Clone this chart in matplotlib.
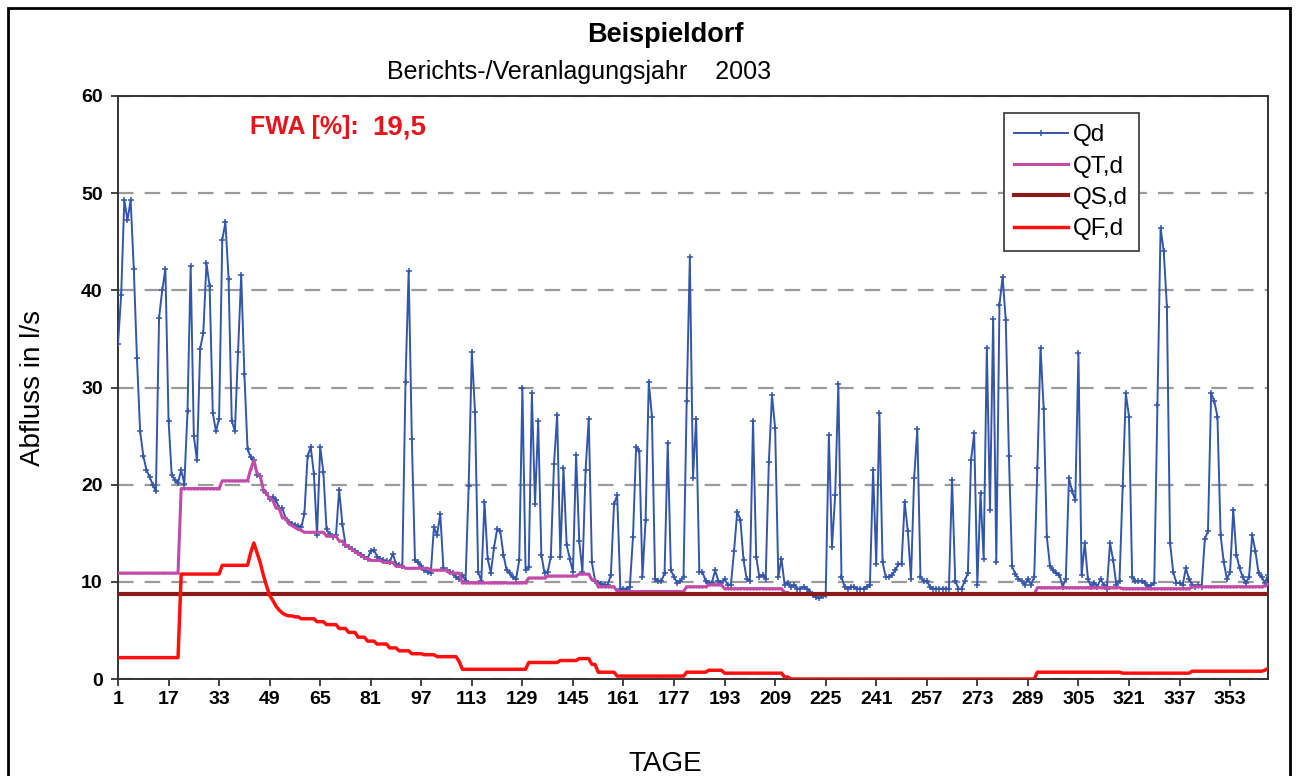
import numpy as np
import matplotlib
matplotlib.use("Agg")
import matplotlib.pyplot as plt
from matplotlib.patches import Rectangle

plt.rcParams["font.family"] = ["Liberation Sans", "DejaVu Sans"]

# daily discharge Qd (l/s), days 1..365
qd = [
	34.5, 39.5, 49.3, 47.2, 49.3, 42.2, 33.0, 25.5, 23.0, 21.5,
	20.8, 20.0, 19.3, 37.2, 40.0, 42.2, 26.6, 21.0, 20.5, 20.2,
	21.5, 20.1, 27.6, 42.5, 25.0, 22.5, 34.0, 35.6, 42.8, 40.4,
	27.4, 25.5, 26.8, 45.2, 47.0, 41.2, 26.6, 25.5, 33.7, 41.6,
	31.4, 23.7, 22.8, 22.5, 21.0, 20.9, 19.5, 19.1, 18.5, 18.7,
	18.4, 17.6, 17.6, 16.6, 16.2, 16.0, 15.8, 15.7, 15.6, 17.0,
	22.9, 23.9, 21.1, 14.8, 23.9, 21.3, 15.4, 14.9, 14.6, 14.8,
	19.5, 16.0, 13.8, 13.6, 13.4, 13.2, 13.0, 12.8, 12.6, 12.4,
	13.2, 13.3, 12.6, 12.4, 12.2, 12.1, 12.0, 12.9, 11.8, 11.7,
	11.6, 30.6, 42.0, 24.7, 12.2, 12.0, 11.6, 11.2, 11.0, 10.9,
	15.6, 14.8, 17.0, 11.4, 11.2, 11.0, 10.9, 10.5, 10.3, 10.7,
	10.1, 19.9, 33.7, 27.5, 11.0, 10.1, 18.2, 12.4, 10.9, 13.5,
	15.4, 15.2, 12.8, 11.2, 10.9, 10.5, 10.3, 12.2, 30.0, 11.2,
	11.5, 29.4, 18.0, 26.6, 12.8, 10.9, 11.0, 12.6, 22.1, 27.2,
	12.6, 21.7, 13.8, 12.4, 11.0, 23.1, 14.2, 11.0, 21.5, 26.8,
	12.0, 10.1, 9.9, 9.8, 9.7, 9.7, 10.7, 18.0, 18.9, 9.3,
	9.3, 9.3, 9.5, 14.6, 23.9, 23.5, 10.5, 16.4, 30.6, 27.0,
	10.3, 10.1, 10.1, 10.9, 24.3, 11.2, 10.5, 9.9, 10.1, 10.5,
	28.6, 43.4, 20.7, 26.8, 11.0, 11.0, 10.1, 9.9, 9.9, 11.2,
	10.1, 9.9, 10.3, 9.7, 9.7, 13.2, 17.2, 16.4, 12.2, 10.3,
	10.1, 26.6, 12.6, 10.5, 10.7, 10.3, 22.3, 29.2, 25.8, 10.5,
	12.4, 9.7, 9.9, 9.5, 9.7, 9.3, 9.3, 9.5, 9.3, 9.0,
	8.6, 8.4, 8.3, 8.5, 8.6, 25.1, 13.6, 18.9, 30.4, 10.5,
	9.5, 9.3, 9.5, 9.5, 9.3, 9.3, 9.3, 9.5, 9.7, 21.5,
	11.8, 27.4, 12.0, 10.5, 10.5, 10.7, 11.2, 11.8, 11.8, 18.2,
	15.2, 10.3, 20.7, 25.7, 10.5, 10.1, 10.1, 9.5, 9.3, 9.3,
	9.3, 9.3, 9.3, 9.3, 20.5, 10.1, 9.3, 9.3, 10.1, 10.9,
	22.5, 25.3, 9.7, 19.1, 12.4, 34.1, 17.4, 37.1, 12.0, 38.5,
	41.4, 36.9, 22.9, 11.6, 10.8, 10.3, 10.1, 9.7, 10.3, 9.7,
	10.5, 21.7, 34.1, 27.8, 14.6, 11.6, 11.2, 10.9, 10.7, 9.5,
	10.3, 20.7, 19.3, 18.4, 33.5, 10.7, 14.0, 10.3, 9.5, 9.9,
	9.5, 10.3, 9.7, 9.3, 14.0, 12.2, 9.7, 10.1, 19.9, 29.4,
	27.0, 10.5, 10.1, 10.1, 10.1, 9.9, 9.5, 9.7, 9.9, 28.2,
	46.4, 44.0, 38.3, 14.0, 11.0, 9.9, 9.9, 9.7, 11.4, 10.3,
	9.7, 9.5, 9.7, 9.5, 14.4, 15.2, 29.4, 28.6, 27.0, 14.8,
	12.0, 10.3, 11.0, 17.4, 12.8, 11.4, 10.5, 9.9, 10.5, 14.8,
	13.2, 10.9, 10.5, 9.9, 10.7,
]

# dry weather flow QT,d as (value, number of days)
qt_levels = [10.9, 19.6, 20.4,
	21.6, 22.5, 21.2, 20.9, 19.5, 19.1, 18.6, 18.4, 17.6, 17.6, 16.6, 16.6, 16.0, 15.8, 15.6, 15.4, 15.3,
	15.1, 14.7, 14.2, 13.8, 13.6, 13.4, 13.1, 12.9, 12.7, 12.5, 12.4,
	12.2, 12.0, 11.6, 11.4, 11.2, 10.9, 9.9, 10.4, 10.6, 10.8, 10.2, 9.5, 9.0,
	9.5, 9.7, 9.3, 8.9, 8.7, 9.4, 9.3, 9.5, 9.6, 9.8]
qt_days = [20, 13, 9,
	1, 1, 1, 1, 1, 1, 1, 1, 1, 1, 1, 1, 1, 1, 1, 1, 1,
	7, 4, 2, 1, 1, 1, 1, 1, 1, 1, 1,
	4, 4, 3, 8, 6, 4, 21, 6, 10, 4, 2, 6, 22,
	7, 5, 19, 2, 78, 27, 22, 23, 1, 1]

# sewage flow QS,d (constant)
qs_value = 8.7

# infiltration water QF,d as (value, number of days)
qf_levels = [2.2, 10.8, 11.7,
	13.0, 14.0, 13.0, 12.0, 10.7, 9.6, 8.6, 8.1, 7.5, 7.1, 6.8, 6.6, 6.5, 6.5, 6.4, 6.4,
	6.2, 5.9, 5.6, 5.2, 4.8, 4.3, 3.9, 3.6, 3.2, 2.9, 2.6, 2.5, 2.3, 1.8,
	1.0, 1.7, 1.9, 2.1, 1.5, 0.7, 0.3, 0.7, 0.9, 0.6, 0.2, 0.0, 0.7, 0.6, 0.8, 0.9, 1.1]
qf_days = [20, 13, 9,
	1, 1, 1, 1, 1, 1, 1, 1, 1, 1, 1, 1, 1, 1, 1, 1,
	5, 3, 4, 3, 3, 3, 3, 4, 3, 4, 4, 4, 7, 1,
	21, 10, 6, 4, 2, 6, 22, 7, 5, 19, 2, 78, 27, 22, 23, 1, 1]

fwa_value = "19,5"

days = np.arange(1, len(qd) + 1)
qt = np.repeat(qt_levels, qt_days)
qf = np.repeat(qf_levels, qf_days)
qs = np.full(len(days), qs_value)

fig = plt.figure(figsize=(12.98, 7.76), dpi=100)
ax = fig.add_axes([118 / 1298, 1 - 679 / 776, 1150 / 1298, 583 / 776])

ax.plot(days, qd, color="#3456A8", lw=1.4, marker="+", ms=4, mew=1.1, label="Qd", zorder=3)
ax.plot(days, qt, color="#C24AA8", lw=2.2, marker=".", ms=1.5, label="QT,d", zorder=4)
ax.plot(days, qs, color="#8B1A1A", lw=3.0, label="QS,d", zorder=5)
ax.plot(days, qf, color="#FF1010", lw=2.5, label="QF,d", zorder=6)

ax.set_xlim(1, 365)
ax.set_ylim(0, 60)
ax.set_xticks(np.arange(1, 366, 16))
ax.set_yticks(np.arange(0, 61, 10))
ax.tick_params(axis="both", direction="out", length=5, width=1.2, colors="#222222")
for lbl in ax.get_xticklabels() + ax.get_yticklabels():
	lbl.set_fontweight("bold")
	lbl.set_fontsize(14)
	lbl.set_color("black")
ax.tick_params(axis="x", pad=4)
ax.tick_params(axis="y", pad=6)
ax.grid(True, axis="y", color="#9A9A9A", lw=1.6, dashes=(7, 5))
ax.grid(False, axis="x")
for sp in ax.spines.values():
	sp.set_color("#333333")
	sp.set_linewidth(1.4)

ax.set_ylabel("Abfluss in l/s", fontsize=20)
ax.yaxis.set_label_coords(-0.063, 0.5)
ax.set_xlabel("TAGE", fontsize=20, va="center")
ax.xaxis.set_label_coords(0.476, -0.145)

ax.text(0.115, 0.946, "FWA [%]:", transform=ax.transAxes, color="#E8141B",
	fontsize=18, fontweight="bold", va="center")
ax.text(0.221, 0.946, fwa_value, transform=ax.transAxes, color="#E8141B",
	fontsize=20, fontweight="bold", va="center")

leg = ax.legend(loc="upper left", bbox_to_anchor=(0.770, 0.970), fontsize=17.5,
	frameon=True, fancybox=False, framealpha=1, edgecolor="#444444",
	handlelength=2.2, handletextpad=0.2, labelspacing=0.38, borderpad=0.45,
	borderaxespad=0)
leg.get_frame().set_linewidth(1.3)
leg.set_zorder(10)

fig.text(665 / 1298, 1 - 35 / 776, "Beispieldorf", ha="center", va="center",
	fontsize=19.5, fontweight="bold")
fig.text(579 / 1298, 1 - 72 / 776, "Berichts-/Veranlagungsjahr    2003", ha="center",
	va="center", fontsize=18)

fig.patches.append(Rectangle((8 / 1298, -0.02), 1282 / 1298, 1 - 8 / 776 + 0.02,
	transform=fig.transFigure, fill=False, edgecolor="black", lw=2.0))

fig.savefig("out.png", dpi=100)
